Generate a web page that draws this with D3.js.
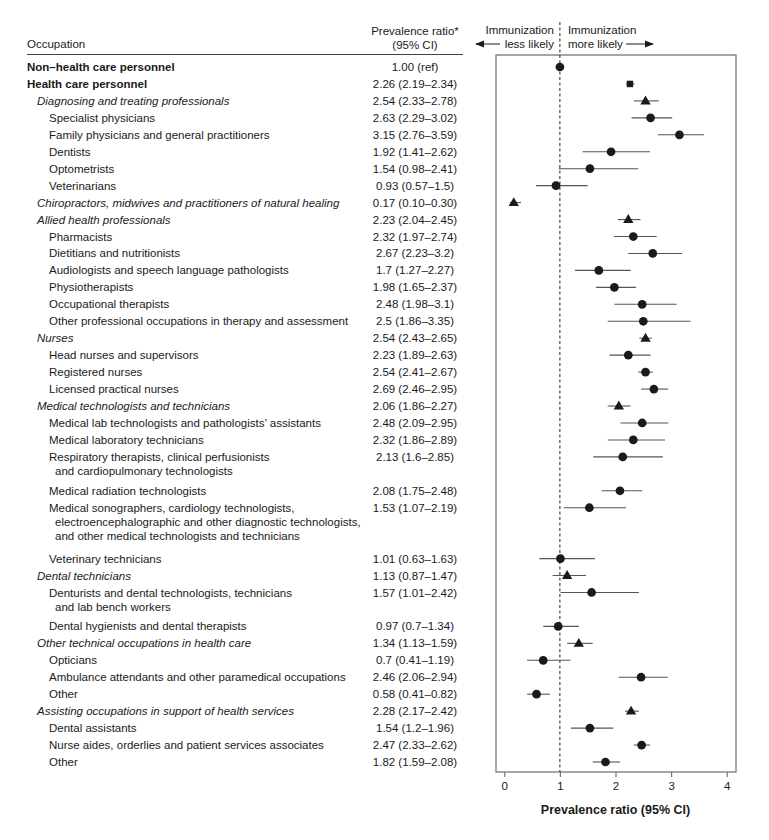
<!DOCTYPE html>
<html>
<head>
<meta charset="utf-8">
<script src="https://cdn.jsdelivr.net/npm/d3@7"></script>
<style>
  body { margin: 0; background: #fff; }
  svg text { font-family: "Liberation Sans", Arial, sans-serif; fill: #1a1a1a; }
</style>
</head>
<body>
<svg id="chart" width="769" height="840"></svg>
<script>
// rows: label lines, level (0 = main, 1 = group, 2 = item)
const labels = [
  ["Non\u2013health care personnel"],
  ["Health care personnel"],
  ["Diagnosing and treating professionals"],
  ["Specialist physicians"],
  ["Family physicians and general practitioners"],
  ["Dentists"],
  ["Optometrists"],
  ["Veterinarians"],
  ["Chiropractors, midwives and practitioners of natural healing"],
  ["Allied health professionals"],
  ["Pharmacists"],
  ["Dietitians and nutritionists"],
  ["Audiologists and speech language pathologists"],
  ["Physiotherapists"],
  ["Occupational therapists"],
  ["Other professional occupations in therapy and assessment"],
  ["Nurses"],
  ["Head nurses and supervisors"],
  ["Registered nurses"],
  ["Licensed practical nurses"],
  ["Medical technologists and technicians"],
  ["Medical lab technologists and pathologists\u2019 assistants"],
  ["Medical laboratory technicians"],
  ["Respiratory therapists, clinical perfusionists", "and cardiopulmonary technologists"],
  ["Medical radiation technologists"],
  ["Medical sonographers, cardiology technologists,", "electroencephalographic and other diagnostic technologists,", "and other medical technologists and technicians"],
  ["Veterinary technicians"],
  ["Dental technicians"],
  ["Denturists and dental technologists, technicians", "and lab bench workers"],
  ["Dental hygienists and dental therapists"],
  ["Other technical occupations in health care"],
  ["Opticians"],
  ["Ambulance attendants and other paramedical occupations"],
  ["Other"],
  ["Assisting occupations in support of health services"],
  ["Dental assistants"],
  ["Nurse aides, orderlies and patient services associates"],
  ["Other"]
];
const levels = [0,0,1,2,2,2,2,2,1,1,2,2,2,2,2,2,1,2,2,2,1,2,2,2,2,2,2,1,2,2,1,2,2,2,1,2,2,2];
const shapes = ["circle","square","triangle","circle","circle","circle","circle","circle","triangle","triangle",
  "circle","circle","circle","circle","circle","circle","triangle","circle","circle","circle","triangle",
  "circle","circle","circle","circle","circle","circle","triangle","circle","circle","triangle","circle",
  "circle","circle","triangle","circle","circle","circle"];

// prevalence ratio and 95% CI, as printed
const pr = ["1.00","2.26","2.54","2.63","3.15","1.92","1.54","0.93","0.17","2.23","2.32","2.67","1.7","1.98","2.48","2.5",
  "2.54","2.23","2.54","2.69","2.06","2.48","2.32","2.13","2.08","1.53","1.01","1.13","1.57","0.97","1.34","0.7","2.46",
  "0.58","2.28","1.54","2.47","1.82"];
const lo = [null,"2.19","2.33","2.29","2.76","1.41","0.98","0.57","0.10","2.04","1.97","2.23","1.27","1.65","1.98","1.86",
  "2.43","1.89","2.41","2.46","1.86","2.09","1.86","1.6","1.75","1.07","0.63","0.87","1.01","0.7","1.13","0.41","2.06",
  "0.41","2.17","1.2","2.33","1.59"];
const hi = [null,"2.34","2.78","3.02","3.59","2.62","2.41","1.5","0.30","2.45","2.74","3.2","2.27","2.37","3.1","3.35",
  "2.65","2.63","2.67","2.95","2.27","2.95","2.89","2.85","2.48","2.19","1.63","1.47","2.42","1.34","1.59","1.19","2.94",
  "0.82","2.42","1.96","2.62","2.08"];

const xTicks = [0, 1, 2, 3, 4];

const rows = labels.map((l, i) => ({
  lines: l, level: levels[i], shape: shapes[i],
  pr: +pr[i], lo: lo[i] == null ? null : +lo[i], hi: hi[i] == null ? null : +hi[i],
  text: lo[i] == null ? pr[i] + " (ref)" : `${pr[i]} (${lo[i]}\u2013${hi[i]})`
}));
let slot = 0;
rows.forEach(r => { r.slot = slot; slot += r.lines.length; });

const svg = d3.select("#chart");
const fs = 11.5;
const lineGap = 14;

const x = d3.scaleLinear().domain([0, 4]).range([504.3, 726.7]);
const y = d3.scaleLinear().domain([0, slot - 1]).range([67, 762]);
const box = { left: 496, right: 736, top: 55, bottom: 772 };

// header
svg.append("text").attr("x", 27).attr("y", 48).attr("font-size", fs).text("Occupation");
svg.append("text").attr("x", 415).attr("y", 35).attr("font-size", fs).attr("text-anchor", "middle").text("Prevalence ratio*");
svg.append("text").attr("x", 415).attr("y", 48.5).attr("font-size", fs).attr("text-anchor", "middle").text("(95% CI)");
svg.append("line").attr("x1", 27).attr("x2", 463).attr("y1", 54.5).attr("y2", 54.5).attr("stroke", "#444").attr("stroke-width", 1);

// table text
const indent = [27, 37, 49];
const tbl = svg.append("g");
rows.forEach(r => {
  r.lines.forEach((t, j) => {
    tbl.append("text")
      .attr("x", indent[r.level] + (j > 0 ? 6 : 0))
      .attr("y", y(r.slot) + j * lineGap)
      .attr("dy", "0.35em")
      .attr("font-size", fs)
      .attr("font-weight", r.level === 0 ? "bold" : null)
      .attr("font-style", r.level === 1 ? "italic" : null)
      .text(t);
  });
  tbl.append("text")
    .attr("x", 415).attr("y", y(r.slot)).attr("dy", "0.35em")
    .attr("font-size", fs).attr("text-anchor", "middle")
    .text(r.text);
});

// plot box
svg.append("rect")
  .attr("x", box.left).attr("y", box.top)
  .attr("width", box.right - box.left).attr("height", box.bottom - box.top)
  .attr("fill", "none").attr("stroke", "#777").attr("stroke-width", 1.3);

// reference line at 1
svg.append("line")
  .attr("x1", x(1)).attr("x2", x(1)).attr("y1", 22).attr("y2", box.bottom)
  .attr("stroke", "#222").attr("stroke-width", 1).attr("stroke-dasharray", "3,2.5");

// direction labels
const hdr = svg.append("g").attr("font-size", fs);
hdr.append("text").attr("x", x(1) - 6).attr("y", 34).attr("text-anchor", "end").attr("font-size", fs).text("Immunization");
hdr.append("text").attr("x", x(1) - 6).attr("y", 48).attr("text-anchor", "end").attr("font-size", fs).text("less likely");
hdr.append("text").attr("x", x(1) + 8).attr("y", 34).attr("font-size", fs).text("Immunization");
hdr.append("text").attr("x", x(1) + 8).attr("y", 48).attr("font-size", fs).text("more likely");

svg.append("defs").append("marker")
  .attr("id", "arr").attr("viewBox", "0 0 10 10").attr("refX", 9).attr("refY", 5)
  .attr("markerWidth", 9).attr("markerHeight", 9).attr("markerUnits", "userSpaceOnUse")
  .attr("orient", "auto")
  .append("path").attr("d", "M0,1 L10,5 L0,9 Z").attr("fill", "#1a1a1a");
svg.append("line").attr("x1", 500).attr("x2", 476).attr("y1", 44).attr("y2", 44)
  .attr("stroke", "#1a1a1a").attr("stroke-width", 1).attr("marker-end", "url(#arr)");
svg.append("line").attr("x1", 626).attr("x2", 653).attr("y1", 44).attr("y2", 44)
  .attr("stroke", "#1a1a1a").attr("stroke-width", 1).attr("marker-end", "url(#arr)");

// CI lines
const plot = svg.append("g");
plot.selectAll("line.ci")
  .data(rows.filter(r => r.lo != null))
  .join("line")
  .attr("class", "ci")
  .attr("x1", d => x(d.lo)).attr("x2", d => x(d.hi))
  .attr("y1", d => y(d.slot)).attr("y2", d => y(d.slot))
  .attr("stroke", "#555").attr("stroke-width", 1.1);

// point markers
const sym = { circle: d3.symbolCircle, square: d3.symbolSquare, triangle: d3.symbolTriangle };
const size = { circle: 60, square: 42, triangle: 46 };
plot.selectAll("path.pt")
  .data(rows)
  .join("path")
  .attr("class", "pt")
  .attr("transform", d => `translate(${x(d.pr)},${y(d.slot) + (d.shape === "triangle" ? 0.5 : 0)})`)
  .attr("d", d => d3.symbol(sym[d.shape], size[d.shape])())
  .attr("fill", "#1a1a1a");

// x axis
const ax = svg.append("g")
  .attr("transform", `translate(0,${box.bottom})`)
  .call(d3.axisBottom(x).tickValues(xTicks).tickSize(5).tickPadding(5).tickFormat(d3.format("d")));
ax.select(".domain").remove();
ax.selectAll("line").attr("stroke", "#777").attr("stroke-width", 1.2);
ax.selectAll("text").attr("font-size", fs).attr("font-family", "Liberation Sans, Arial, sans-serif").attr("fill", "#1a1a1a");

svg.append("text")
  .attr("x", (x(0) + x(4)) / 2).attr("y", 814)
  .attr("text-anchor", "middle").attr("font-size", 12.5).attr("font-weight", "bold")
  .text("Prevalence ratio (95% CI)");
</script>
</body>
</html>
